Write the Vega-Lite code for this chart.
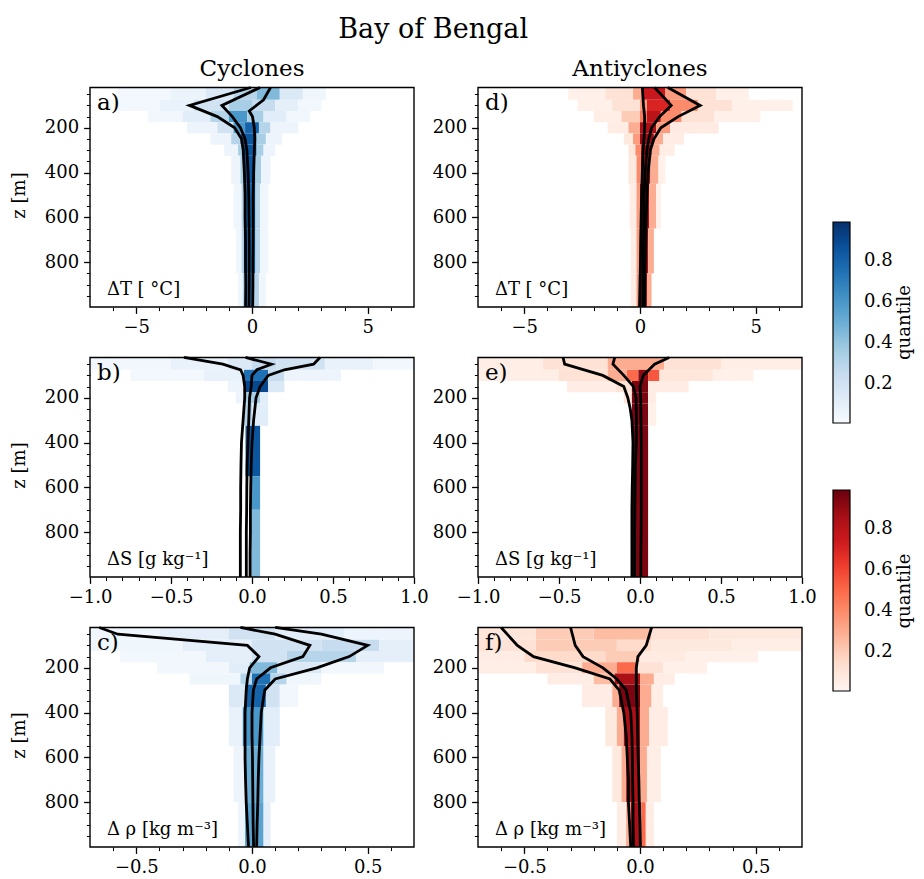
{
"$schema": "https://vega.github.io/schema/vega-lite/v6.json",
"background": "white",
"padding": {"left": 10, "top": 16, "right": 5, "bottom": 5},
"title": {"text": "Bay of Bengal", "anchor": "start", "dx": 328, "fontSize": 27, "offset": 14},
"datasets": {
"heat": [
{"p":"a","z0":20,"z1":75,"x0":-5.8,"x1":-3.5,"q":0.03},{"p":"a","z0":20,"z1":75,"x0":-3.5,"x1":-2,"q":0.07},{"p":"a","z0":20,"z1":75,"x0":-2,"x1":-0.8,"q":0.15},{"p":"a","z0":20,"z1":75,"x0":-0.8,"x1":0.2,"q":0.3},{"p":"a","z0":20,"z1":75,"x0":0.2,"x1":1.2,"q":0.45},{"p":"a","z0":20,"z1":75,"x0":1.2,"x1":2.2,"q":0.15},{"p":"a","z0":20,"z1":75,"x0":2.2,"x1":3.2,"q":0.05},
{"p":"a","z0":75,"z1":125,"x0":-5.8,"x1":-4,"q":0.03},{"p":"a","z0":75,"z1":125,"x0":-4,"x1":-2.5,"q":0.08},{"p":"a","z0":75,"z1":125,"x0":-2.5,"x1":-1,"q":0.2},{"p":"a","z0":75,"z1":125,"x0":-1,"x1":0,"q":0.35},{"p":"a","z0":75,"z1":125,"x0":0,"x1":1,"q":0.25},{"p":"a","z0":75,"z1":125,"x0":1,"x1":2,"q":0.1},{"p":"a","z0":75,"z1":125,"x0":2,"x1":3,"q":0.04},
{"p":"a","z0":125,"z1":175,"x0":-4.5,"x1":-3,"q":0.04},{"p":"a","z0":125,"z1":175,"x0":-3,"x1":-1.8,"q":0.12},{"p":"a","z0":125,"z1":175,"x0":-1.8,"x1":-1,"q":0.3},{"p":"a","z0":125,"z1":175,"x0":-1,"x1":-0.2,"q":0.6},{"p":"a","z0":125,"z1":175,"x0":-0.2,"x1":0.5,"q":0.35},{"p":"a","z0":125,"z1":175,"x0":0.5,"x1":1.5,"q":0.12},{"p":"a","z0":125,"z1":175,"x0":1.5,"x1":2.5,"q":0.04},
{"p":"a","z0":175,"z1":225,"x0":-2.8,"x1":-1.5,"q":0.06},{"p":"a","z0":175,"z1":225,"x0":-1.5,"x1":-0.8,"q":0.2},{"p":"a","z0":175,"z1":225,"x0":-0.8,"x1":-0.3,"q":0.6},{"p":"a","z0":175,"z1":225,"x0":-0.3,"x1":0.3,"q":0.8},{"p":"a","z0":175,"z1":225,"x0":0.3,"x1":0.8,"q":0.3},{"p":"a","z0":175,"z1":225,"x0":0.8,"x1":2,"q":0.06},
{"p":"a","z0":225,"z1":275,"x0":-1.8,"x1":-0.9,"q":0.06},{"p":"a","z0":225,"z1":275,"x0":-0.9,"x1":-0.5,"q":0.3},{"p":"a","z0":225,"z1":275,"x0":-0.5,"x1":0.2,"q":0.85},{"p":"a","z0":225,"z1":275,"x0":0.2,"x1":0.6,"q":0.35},{"p":"a","z0":225,"z1":275,"x0":0.6,"x1":1.3,"q":0.06},
{"p":"a","z0":275,"z1":325,"x0":-1.2,"x1":-0.6,"q":0.06},{"p":"a","z0":275,"z1":325,"x0":-0.6,"x1":-0.35,"q":0.35},{"p":"a","z0":275,"z1":325,"x0":-0.35,"x1":0.2,"q":0.85},{"p":"a","z0":275,"z1":325,"x0":0.2,"x1":0.5,"q":0.35},{"p":"a","z0":275,"z1":325,"x0":0.5,"x1":1,"q":0.06},
{"p":"a","z0":325,"z1":450,"x0":-0.9,"x1":-0.5,"q":0.06},{"p":"a","z0":325,"z1":450,"x0":-0.5,"x1":-0.35,"q":0.35},{"p":"a","z0":325,"z1":450,"x0":-0.35,"x1":0.15,"q":0.85},{"p":"a","z0":325,"z1":450,"x0":0.15,"x1":0.4,"q":0.35},{"p":"a","z0":325,"z1":450,"x0":0.4,"x1":0.8,"q":0.06},
{"p":"a","z0":450,"z1":650,"x0":-0.8,"x1":-0.45,"q":0.05},{"p":"a","z0":450,"z1":650,"x0":-0.45,"x1":-0.35,"q":0.3},{"p":"a","z0":450,"z1":650,"x0":-0.35,"x1":0.15,"q":0.8},{"p":"a","z0":450,"z1":650,"x0":0.15,"x1":0.35,"q":0.3},{"p":"a","z0":450,"z1":650,"x0":0.35,"x1":0.7,"q":0.05},
{"p":"a","z0":650,"z1":850,"x0":-0.7,"x1":-0.45,"q":0.05},{"p":"a","z0":650,"z1":850,"x0":-0.45,"x1":-0.35,"q":0.3},{"p":"a","z0":650,"z1":850,"x0":-0.35,"x1":0.15,"q":0.75},{"p":"a","z0":650,"z1":850,"x0":0.15,"x1":0.35,"q":0.3},{"p":"a","z0":650,"z1":850,"x0":0.35,"x1":0.7,"q":0.05},
{"p":"a","z0":850,"z1":1000,"x0":-0.6,"x1":-0.4,"q":0.05},{"p":"a","z0":850,"z1":1000,"x0":-0.4,"x1":-0.3,"q":0.3},{"p":"a","z0":850,"z1":1000,"x0":-0.3,"x1":0.1,"q":0.7},{"p":"a","z0":850,"z1":1000,"x0":0.1,"x1":0.3,"q":0.3},{"p":"a","z0":850,"z1":1000,"x0":0.3,"x1":0.6,"q":0.05},
{"p":"d","z0":20,"z1":75,"x0":-3.1,"x1":-1.5,"q":0.04},{"p":"d","z0":20,"z1":75,"x0":-1.5,"x1":-0.3,"q":0.12},{"p":"d","z0":20,"z1":75,"x0":-0.3,"x1":0.1,"q":0.3},{"p":"d","z0":20,"z1":75,"x0":0.1,"x1":1.1,"q":0.75},{"p":"d","z0":20,"z1":75,"x0":1.1,"x1":2,"q":0.35},{"p":"d","z0":20,"z1":75,"x0":2,"x1":3.3,"q":0.12},{"p":"d","z0":20,"z1":75,"x0":3.3,"x1":4.7,"q":0.04},
{"p":"d","z0":75,"z1":125,"x0":-2.7,"x1":-1.2,"q":0.04},{"p":"d","z0":75,"z1":125,"x0":-1.2,"x1":0,"q":0.12},{"p":"d","z0":75,"z1":125,"x0":0,"x1":0.3,"q":0.35},{"p":"d","z0":75,"z1":125,"x0":0.3,"x1":1.3,"q":0.7},{"p":"d","z0":75,"z1":125,"x0":1.3,"x1":2.5,"q":0.4},{"p":"d","z0":75,"z1":125,"x0":2.5,"x1":4,"q":0.12},{"p":"d","z0":75,"z1":125,"x0":4,"x1":6.6,"q":0.04},
{"p":"d","z0":125,"z1":175,"x0":-2,"x1":-0.8,"q":0.05},{"p":"d","z0":125,"z1":175,"x0":-0.8,"x1":0,"q":0.2},{"p":"d","z0":125,"z1":175,"x0":0,"x1":0.3,"q":0.45},{"p":"d","z0":125,"z1":175,"x0":0.3,"x1":0.9,"q":0.8},{"p":"d","z0":125,"z1":175,"x0":0.9,"x1":1.8,"q":0.4},{"p":"d","z0":125,"z1":175,"x0":1.8,"x1":3.2,"q":0.12},{"p":"d","z0":125,"z1":175,"x0":3.2,"x1":5.2,"q":0.04},
{"p":"d","z0":175,"z1":225,"x0":-1.4,"x1":-0.5,"q":0.06},{"p":"d","z0":175,"z1":225,"x0":-0.5,"x1":0,"q":0.3},{"p":"d","z0":175,"z1":225,"x0":0,"x1":0.7,"q":0.85},{"p":"d","z0":175,"z1":225,"x0":0.7,"x1":1.3,"q":0.35},{"p":"d","z0":175,"z1":225,"x0":1.3,"x1":3.4,"q":0.07},
{"p":"d","z0":225,"z1":275,"x0":-0.7,"x1":-0.3,"q":0.08},{"p":"d","z0":225,"z1":275,"x0":-0.3,"x1":0,"q":0.35},{"p":"d","z0":225,"z1":275,"x0":0,"x1":0.6,"q":0.9},{"p":"d","z0":225,"z1":275,"x0":0.6,"x1":1,"q":0.3},{"p":"d","z0":225,"z1":275,"x0":1,"x1":1.9,"q":0.06},
{"p":"d","z0":275,"z1":325,"x0":-0.5,"x1":-0.2,"q":0.1},{"p":"d","z0":275,"z1":325,"x0":-0.2,"x1":0.05,"q":0.4},{"p":"d","z0":275,"z1":325,"x0":0.05,"x1":0.5,"q":0.9},{"p":"d","z0":275,"z1":325,"x0":0.5,"x1":0.85,"q":0.3},{"p":"d","z0":275,"z1":325,"x0":0.85,"x1":1.5,"q":0.05},
{"p":"d","z0":325,"z1":450,"x0":-0.5,"x1":-0.15,"q":0.08},{"p":"d","z0":325,"z1":450,"x0":-0.15,"x1":0.05,"q":0.4},{"p":"d","z0":325,"z1":450,"x0":0.05,"x1":0.45,"q":0.85},{"p":"d","z0":325,"z1":450,"x0":0.45,"x1":0.8,"q":0.3},{"p":"d","z0":325,"z1":450,"x0":0.8,"x1":1.1,"q":0.04},
{"p":"d","z0":450,"z1":650,"x0":-0.45,"x1":-0.15,"q":0.06},{"p":"d","z0":450,"z1":650,"x0":-0.15,"x1":0,"q":0.35},{"p":"d","z0":450,"z1":650,"x0":0,"x1":0.4,"q":0.85},{"p":"d","z0":450,"z1":650,"x0":0.4,"x1":0.7,"q":0.3},{"p":"d","z0":450,"z1":650,"x0":0.7,"x1":0.9,"q":0.04},
{"p":"d","z0":650,"z1":850,"x0":-0.4,"x1":-0.15,"q":0.05},{"p":"d","z0":650,"z1":850,"x0":-0.15,"x1":0,"q":0.35},{"p":"d","z0":650,"z1":850,"x0":0,"x1":0.35,"q":0.85},{"p":"d","z0":650,"z1":850,"x0":0.35,"x1":0.6,"q":0.3},
{"p":"d","z0":850,"z1":1000,"x0":-0.4,"x1":-0.15,"q":0.05},{"p":"d","z0":850,"z1":1000,"x0":-0.15,"x1":-0.05,"q":0.35},{"p":"d","z0":850,"z1":1000,"x0":-0.05,"x1":0.3,"q":0.9},{"p":"d","z0":850,"z1":1000,"x0":0.3,"x1":0.5,"q":0.3},
{"p":"b","z0":20,"z1":75,"x0":-1,"x1":-0.5,"q":0.04},{"p":"b","z0":20,"z1":75,"x0":-0.5,"x1":-0.15,"q":0.08},{"p":"b","z0":20,"z1":75,"x0":-0.15,"x1":0,"q":0.15},{"p":"b","z0":20,"z1":75,"x0":0,"x1":0.15,"q":0.25},{"p":"b","z0":20,"z1":75,"x0":0.15,"x1":0.45,"q":0.2},{"p":"b","z0":20,"z1":75,"x0":0.45,"x1":0.75,"q":0.08},{"p":"b","z0":20,"z1":75,"x0":0.75,"x1":1,"q":0.04},
{"p":"b","z0":75,"z1":125,"x0":-0.75,"x1":-0.3,"q":0.03},{"p":"b","z0":75,"z1":125,"x0":-0.3,"x1":-0.05,"q":0.08},{"p":"b","z0":75,"z1":125,"x0":-0.05,"x1":0.1,"q":0.75},{"p":"b","z0":75,"z1":125,"x0":0.1,"x1":0.2,"q":0.25},{"p":"b","z0":75,"z1":125,"x0":0.2,"x1":0.55,"q":0.06},
{"p":"b","z0":125,"z1":175,"x0":-0.15,"x1":-0.05,"q":0.06},{"p":"b","z0":125,"z1":175,"x0":-0.05,"x1":0.1,"q":0.9},{"p":"b","z0":125,"z1":175,"x0":0.1,"x1":0.2,"q":0.15},
{"p":"b","z0":175,"z1":225,"x0":-0.1,"x1":-0.05,"q":0.06},{"p":"b","z0":175,"z1":225,"x0":-0.05,"x1":0.05,"q":0.35},{"p":"b","z0":175,"z1":225,"x0":0.05,"x1":0.1,"q":0.12},
{"p":"b","z0":225,"z1":325,"x0":-0.05,"x1":0,"q":0.3},{"p":"b","z0":225,"z1":325,"x0":0,"x1":0.1,"q":0.12},
{"p":"b","z0":325,"z1":550,"x0":-0.04,"x1":0.05,"q":0.85},
{"p":"b","z0":550,"z1":700,"x0":-0.01,"x1":0.05,"q":0.6},
{"p":"b","z0":700,"z1":1000,"x0":-0.01,"x1":0.05,"q":0.45},
{"p":"e","z0":20,"z1":75,"x0":-1,"x1":-0.6,"q":0.05},{"p":"e","z0":20,"z1":75,"x0":-0.6,"x1":-0.2,"q":0.12},{"p":"e","z0":20,"z1":75,"x0":-0.2,"x1":0.15,"q":0.3},{"p":"e","z0":20,"z1":75,"x0":0.15,"x1":0.5,"q":0.12},{"p":"e","z0":20,"z1":75,"x0":0.5,"x1":1,"q":0.05},
{"p":"e","z0":75,"z1":125,"x0":-1,"x1":-0.5,"q":0.05},{"p":"e","z0":75,"z1":125,"x0":-0.5,"x1":-0.2,"q":0.12},{"p":"e","z0":75,"z1":125,"x0":-0.2,"x1":-0.08,"q":0.3},{"p":"e","z0":75,"z1":125,"x0":-0.08,"x1":-0.01,"q":0.5},{"p":"e","z0":75,"z1":125,"x0":-0.01,"x1":0.05,"q":0.92},{"p":"e","z0":75,"z1":125,"x0":0.05,"x1":0.12,"q":0.55},{"p":"e","z0":75,"z1":125,"x0":0.12,"x1":0.45,"q":0.1},{"p":"e","z0":75,"z1":125,"x0":0.45,"x1":0.7,"q":0.04},
{"p":"e","z0":125,"z1":175,"x0":-0.45,"x1":-0.15,"q":0.06},{"p":"e","z0":125,"z1":175,"x0":-0.15,"x1":-0.05,"q":0.12},{"p":"e","z0":125,"z1":175,"x0":-0.05,"x1":0.05,"q":0.95},{"p":"e","z0":125,"z1":175,"x0":0.05,"x1":0.3,"q":0.06},
{"p":"e","z0":175,"z1":225,"x0":-0.1,"x1":-0.05,"q":0.1},{"p":"e","z0":175,"z1":225,"x0":-0.05,"x1":0.05,"q":0.95},{"p":"e","z0":175,"z1":225,"x0":0.05,"x1":0.1,"q":0.06},
{"p":"e","z0":225,"z1":325,"x0":-0.05,"x1":0.05,"q":0.95},{"p":"e","z0":225,"z1":325,"x0":0.05,"x1":0.1,"q":0.04},
{"p":"e","z0":325,"z1":1000,"x0":-0.05,"x1":0.05,"q":0.95},
{"p":"c","z0":20,"z1":75,"x0":-0.7,"x1":-0.4,"q":0.05},{"p":"c","z0":20,"z1":75,"x0":-0.4,"x1":-0.1,"q":0.1},{"p":"c","z0":20,"z1":75,"x0":-0.1,"x1":0.1,"q":0.2},{"p":"c","z0":20,"z1":75,"x0":0.1,"x1":0.4,"q":0.12},{"p":"c","z0":20,"z1":75,"x0":0.4,"x1":0.7,"q":0.06},
{"p":"c","z0":75,"z1":125,"x0":-0.7,"x1":-0.3,"q":0.05},{"p":"c","z0":75,"z1":125,"x0":-0.3,"x1":0,"q":0.1},{"p":"c","z0":75,"z1":125,"x0":0,"x1":0.3,"q":0.2},{"p":"c","z0":75,"z1":125,"x0":0.3,"x1":0.55,"q":0.25},{"p":"c","z0":75,"z1":125,"x0":0.55,"x1":0.7,"q":0.1},
{"p":"c","z0":125,"z1":175,"x0":-0.57,"x1":-0.2,"q":0.04},{"p":"c","z0":125,"z1":175,"x0":-0.2,"x1":0,"q":0.1},{"p":"c","z0":125,"z1":175,"x0":0,"x1":0.15,"q":0.2},{"p":"c","z0":125,"z1":175,"x0":0.15,"x1":0.45,"q":0.3},{"p":"c","z0":125,"z1":175,"x0":0.45,"x1":0.7,"q":0.1},
{"p":"c","z0":175,"z1":225,"x0":-0.41,"x1":-0.1,"q":0.04},{"p":"c","z0":175,"z1":225,"x0":-0.1,"x1":-0.01,"q":0.12},{"p":"c","z0":175,"z1":225,"x0":-0.01,"x1":0.11,"q":0.45},{"p":"c","z0":175,"z1":225,"x0":0.11,"x1":0.3,"q":0.15},{"p":"c","z0":175,"z1":225,"x0":0.3,"x1":0.57,"q":0.04},
{"p":"c","z0":225,"z1":275,"x0":-0.27,"x1":-0.05,"q":0.05},{"p":"c","z0":225,"z1":275,"x0":-0.05,"x1":0,"q":0.3},{"p":"c","z0":225,"z1":275,"x0":0,"x1":0.08,"q":0.75},{"p":"c","z0":225,"z1":275,"x0":0.08,"x1":0.15,"q":0.3},{"p":"c","z0":225,"z1":275,"x0":0.15,"x1":0.3,"q":0.05},
{"p":"c","z0":275,"z1":375,"x0":-0.1,"x1":-0.03,"q":0.15},{"p":"c","z0":275,"z1":375,"x0":-0.03,"x1":0.06,"q":0.8},{"p":"c","z0":275,"z1":375,"x0":0.06,"x1":0.12,"q":0.2},{"p":"c","z0":275,"z1":375,"x0":0.12,"x1":0.2,"q":0.04},
{"p":"c","z0":375,"z1":550,"x0":-0.1,"x1":-0.04,"q":0.08},{"p":"c","z0":375,"z1":550,"x0":-0.04,"x1":0.05,"q":0.6},{"p":"c","z0":375,"z1":550,"x0":0.05,"x1":0.12,"q":0.12},
{"p":"c","z0":550,"z1":800,"x0":-0.08,"x1":-0.03,"q":0.06},{"p":"c","z0":550,"z1":800,"x0":-0.03,"x1":0.05,"q":0.5},{"p":"c","z0":550,"z1":800,"x0":0.05,"x1":0.1,"q":0.08},
{"p":"c","z0":800,"z1":1000,"x0":-0.06,"x1":-0.03,"q":0.06},{"p":"c","z0":800,"z1":1000,"x0":-0.03,"x1":0.05,"q":0.55},{"p":"c","z0":800,"z1":1000,"x0":0.05,"x1":0.08,"q":0.1},
{"p":"f","z0":20,"z1":75,"x0":-0.7,"x1":-0.45,"q":0.1},{"p":"f","z0":20,"z1":75,"x0":-0.45,"x1":-0.2,"q":0.2},{"p":"f","z0":20,"z1":75,"x0":-0.2,"x1":0.05,"q":0.25},{"p":"f","z0":20,"z1":75,"x0":0.05,"x1":0.3,"q":0.12},{"p":"f","z0":20,"z1":75,"x0":0.3,"x1":0.7,"q":0.08},
{"p":"f","z0":75,"z1":125,"x0":-0.7,"x1":-0.45,"q":0.12},{"p":"f","z0":75,"z1":125,"x0":-0.45,"x1":-0.1,"q":0.2},{"p":"f","z0":75,"z1":125,"x0":-0.1,"x1":0.05,"q":0.15},{"p":"f","z0":75,"z1":125,"x0":0.05,"x1":0.4,"q":0.08},{"p":"f","z0":75,"z1":125,"x0":0.4,"x1":0.7,"q":0.05},
{"p":"f","z0":125,"z1":175,"x0":-0.7,"x1":-0.5,"q":0.06},{"p":"f","z0":125,"z1":175,"x0":-0.5,"x1":-0.15,"q":0.15},{"p":"f","z0":125,"z1":175,"x0":-0.15,"x1":0,"q":0.2},{"p":"f","z0":125,"z1":175,"x0":0,"x1":0.2,"q":0.07},{"p":"f","z0":125,"z1":175,"x0":0.2,"x1":0.51,"q":0.04},
{"p":"f","z0":175,"z1":225,"x0":-0.7,"x1":-0.45,"q":0.05},{"p":"f","z0":175,"z1":225,"x0":-0.45,"x1":-0.25,"q":0.12},{"p":"f","z0":175,"z1":225,"x0":-0.25,"x1":-0.1,"q":0.3},{"p":"f","z0":175,"z1":225,"x0":-0.1,"x1":-0.01,"q":0.5},{"p":"f","z0":175,"z1":225,"x0":-0.01,"x1":0.1,"q":0.12},{"p":"f","z0":175,"z1":225,"x0":0.1,"x1":0.29,"q":0.04},
{"p":"f","z0":225,"z1":275,"x0":-0.4,"x1":-0.2,"q":0.06},{"p":"f","z0":225,"z1":275,"x0":-0.2,"x1":-0.11,"q":0.25},{"p":"f","z0":225,"z1":275,"x0":-0.11,"x1":0,"q":0.85},{"p":"f","z0":225,"z1":275,"x0":0,"x1":0.06,"q":0.3},{"p":"f","z0":225,"z1":275,"x0":0.06,"x1":0.15,"q":0.06},
{"p":"f","z0":275,"z1":375,"x0":-0.25,"x1":-0.12,"q":0.06},{"p":"f","z0":275,"z1":375,"x0":-0.12,"x1":-0.09,"q":0.3},{"p":"f","z0":275,"z1":375,"x0":-0.09,"x1":0,"q":0.95},{"p":"f","z0":275,"z1":375,"x0":0,"x1":0.05,"q":0.3},{"p":"f","z0":275,"z1":375,"x0":0.05,"x1":0.1,"q":0.05},
{"p":"f","z0":375,"z1":550,"x0":-0.15,"x1":-0.1,"q":0.08},{"p":"f","z0":375,"z1":550,"x0":-0.1,"x1":-0.07,"q":0.3},{"p":"f","z0":375,"z1":550,"x0":-0.07,"x1":0,"q":0.85},{"p":"f","z0":375,"z1":550,"x0":0,"x1":0.04,"q":0.3},{"p":"f","z0":375,"z1":550,"x0":0.04,"x1":0.12,"q":0.06},
{"p":"f","z0":550,"z1":800,"x0":-0.12,"x1":-0.08,"q":0.08},{"p":"f","z0":550,"z1":800,"x0":-0.08,"x1":-0.06,"q":0.3},{"p":"f","z0":550,"z1":800,"x0":-0.06,"x1":0,"q":0.85},{"p":"f","z0":550,"z1":800,"x0":0,"x1":0.03,"q":0.3},{"p":"f","z0":550,"z1":800,"x0":0.03,"x1":0.09,"q":0.05},
{"p":"f","z0":800,"z1":1000,"x0":-0.1,"x1":-0.06,"q":0.06},{"p":"f","z0":800,"z1":1000,"x0":-0.06,"x1":-0.04,"q":0.3},{"p":"f","z0":800,"z1":1000,"x0":-0.04,"x1":0.005,"q":0.85},{"p":"f","z0":800,"z1":1000,"x0":0.005,"x1":0.025,"q":0.5},{"p":"f","z0":800,"z1":1000,"x0":0.025,"x1":0.06,"q":0.06}
],
"lines": [
{"p":"a","k":"lo","z":20,"x":-0.05},{"p":"a","k":"lo","z":100,"x":-2.7},{"p":"a","k":"lo","z":150,"x":-1.5},{"p":"a","k":"lo","z":200,"x":-0.75},{"p":"a","k":"lo","z":250,"x":-0.45},{"p":"a","k":"lo","z":300,"x":-0.38},{"p":"a","k":"lo","z":400,"x":-0.33},{"p":"a","k":"lo","z":500,"x":-0.3},{"p":"a","k":"lo","z":600,"x":-0.3},{"p":"a","k":"lo","z":700,"x":-0.28},{"p":"a","k":"lo","z":800,"x":-0.28},{"p":"a","k":"lo","z":900,"x":-0.27},{"p":"a","k":"lo","z":1000,"x":-0.28},
{"p":"a","k":"md","z":20,"x":0.35},{"p":"a","k":"md","z":100,"x":-1.3},{"p":"a","k":"md","z":150,"x":-0.85},{"p":"a","k":"md","z":200,"x":-0.5},{"p":"a","k":"md","z":250,"x":-0.3},{"p":"a","k":"md","z":300,"x":-0.22},{"p":"a","k":"md","z":400,"x":-0.17},{"p":"a","k":"md","z":500,"x":-0.14},{"p":"a","k":"md","z":600,"x":-0.13},{"p":"a","k":"md","z":700,"x":-0.12},{"p":"a","k":"md","z":800,"x":-0.12},{"p":"a","k":"md","z":900,"x":-0.12},{"p":"a","k":"md","z":1000,"x":-0.13},
{"p":"a","k":"hi","z":20,"x":0.8},{"p":"a","k":"hi","z":75,"x":0.5},{"p":"a","k":"hi","z":125,"x":-0.12},{"p":"a","k":"hi","z":150,"x":0.02},{"p":"a","k":"hi","z":200,"x":0.1},{"p":"a","k":"hi","z":250,"x":0.12},{"p":"a","k":"hi","z":300,"x":0.1},{"p":"a","k":"hi","z":400,"x":0.07},{"p":"a","k":"hi","z":500,"x":0.05},{"p":"a","k":"hi","z":600,"x":0.05},{"p":"a","k":"hi","z":700,"x":0.05},{"p":"a","k":"hi","z":800,"x":0.04},{"p":"a","k":"hi","z":900,"x":0.04},{"p":"a","k":"hi","z":1000,"x":0.03},
{"p":"d","k":"lo","z":20,"x":0.1},{"p":"d","k":"lo","z":100,"x":0.15},{"p":"d","k":"lo","z":150,"x":0.2},{"p":"d","k":"lo","z":200,"x":0.2},{"p":"d","k":"lo","z":250,"x":0.17},{"p":"d","k":"lo","z":300,"x":0.13},{"p":"d","k":"lo","z":400,"x":0.1},{"p":"d","k":"lo","z":500,"x":0.07},{"p":"d","k":"lo","z":600,"x":0.05},{"p":"d","k":"lo","z":700,"x":0.03},{"p":"d","k":"lo","z":800,"x":0.02},{"p":"d","k":"lo","z":900,"x":0.0},{"p":"d","k":"lo","z":1000,"x":-0.02},
{"p":"d","k":"md","z":20,"x":0.63},{"p":"d","k":"md","z":100,"x":1.35},{"p":"d","k":"md","z":150,"x":0.85},{"p":"d","k":"md","z":200,"x":0.5},{"p":"d","k":"md","z":250,"x":0.38},{"p":"d","k":"md","z":300,"x":0.3},{"p":"d","k":"md","z":400,"x":0.22},{"p":"d","k":"md","z":500,"x":0.18},{"p":"d","k":"md","z":600,"x":0.16},{"p":"d","k":"md","z":700,"x":0.15},{"p":"d","k":"md","z":800,"x":0.14},{"p":"d","k":"md","z":900,"x":0.13},{"p":"d","k":"md","z":1000,"x":0.12},
{"p":"d","k":"hi","z":20,"x":1.2},{"p":"d","k":"hi","z":100,"x":2.6},{"p":"d","k":"hi","z":150,"x":1.65},{"p":"d","k":"hi","z":200,"x":0.9},{"p":"d","k":"hi","z":250,"x":0.6},{"p":"d","k":"hi","z":300,"x":0.45},{"p":"d","k":"hi","z":400,"x":0.35},{"p":"d","k":"hi","z":500,"x":0.3},{"p":"d","k":"hi","z":600,"x":0.27},{"p":"d","k":"hi","z":700,"x":0.25},{"p":"d","k":"hi","z":800,"x":0.23},{"p":"d","k":"hi","z":900,"x":0.21},{"p":"d","k":"hi","z":1000,"x":0.2},
{"p":"b","k":"lo","z":20,"x":-0.42},{"p":"b","k":"lo","z":50,"x":-0.18},{"p":"b","k":"lo","z":75,"x":-0.07},{"p":"b","k":"lo","z":100,"x":-0.055},{"p":"b","k":"lo","z":150,"x":-0.045},{"p":"b","k":"lo","z":200,"x":-0.045},{"p":"b","k":"lo","z":300,"x":-0.055},{"p":"b","k":"lo","z":400,"x":-0.065},{"p":"b","k":"lo","z":500,"x":-0.068},{"p":"b","k":"lo","z":600,"x":-0.07},{"p":"b","k":"lo","z":700,"x":-0.07},{"p":"b","k":"lo","z":800,"x":-0.072},{"p":"b","k":"lo","z":900,"x":-0.072},{"p":"b","k":"lo","z":1000,"x":-0.072},
{"p":"b","k":"md","z":20,"x":-0.04},{"p":"b","k":"md","z":50,"x":0.12},{"p":"b","k":"md","z":75,"x":0.03},{"p":"b","k":"md","z":100,"x":0.0},{"p":"b","k":"md","z":150,"x":-0.005},{"p":"b","k":"md","z":200,"x":-0.015},{"p":"b","k":"md","z":300,"x":-0.02},{"p":"b","k":"md","z":400,"x":-0.025},{"p":"b","k":"md","z":500,"x":-0.03},{"p":"b","k":"md","z":600,"x":-0.032},{"p":"b","k":"md","z":700,"x":-0.033},{"p":"b","k":"md","z":800,"x":-0.035},{"p":"b","k":"md","z":900,"x":-0.035},{"p":"b","k":"md","z":1000,"x":-0.035},
{"p":"b","k":"hi","z":20,"x":0.42},{"p":"b","k":"hi","z":50,"x":0.38},{"p":"b","k":"hi","z":75,"x":0.2},{"p":"b","k":"hi","z":100,"x":0.1},{"p":"b","k":"hi","z":150,"x":0.05},{"p":"b","k":"hi","z":200,"x":0.025},{"p":"b","k":"hi","z":300,"x":0.01},{"p":"b","k":"hi","z":400,"x":0.0},{"p":"b","k":"hi","z":500,"x":-0.005},{"p":"b","k":"hi","z":600,"x":-0.008},{"p":"b","k":"hi","z":700,"x":-0.01},{"p":"b","k":"hi","z":800,"x":-0.01},{"p":"b","k":"hi","z":900,"x":-0.012},{"p":"b","k":"hi","z":1000,"x":-0.012},
{"p":"e","k":"lo","z":20,"x":-0.475},{"p":"e","k":"lo","z":50,"x":-0.465},{"p":"e","k":"lo","z":100,"x":-0.23},{"p":"e","k":"lo","z":150,"x":-0.1},{"p":"e","k":"lo","z":200,"x":-0.075},{"p":"e","k":"lo","z":250,"x":-0.06},{"p":"e","k":"lo","z":300,"x":-0.05},{"p":"e","k":"lo","z":400,"x":-0.043},{"p":"e","k":"lo","z":500,"x":-0.045},{"p":"e","k":"lo","z":600,"x":-0.048},{"p":"e","k":"lo","z":700,"x":-0.05},{"p":"e","k":"lo","z":800,"x":-0.05},{"p":"e","k":"lo","z":900,"x":-0.05},{"p":"e","k":"lo","z":1000,"x":-0.05},
{"p":"e","k":"md","z":20,"x":-0.156},{"p":"e","k":"md","z":50,"x":-0.167},{"p":"e","k":"md","z":100,"x":-0.1},{"p":"e","k":"md","z":150,"x":-0.04},{"p":"e","k":"md","z":200,"x":-0.025},{"p":"e","k":"md","z":300,"x":-0.022},{"p":"e","k":"md","z":400,"x":-0.023},{"p":"e","k":"md","z":500,"x":-0.028},{"p":"e","k":"md","z":600,"x":-0.03},{"p":"e","k":"md","z":700,"x":-0.032},{"p":"e","k":"md","z":800,"x":-0.033},{"p":"e","k":"md","z":900,"x":-0.033},{"p":"e","k":"md","z":1000,"x":-0.033},
{"p":"e","k":"hi","z":20,"x":0.18},{"p":"e","k":"hi","z":50,"x":0.09},{"p":"e","k":"hi","z":100,"x":0.02},{"p":"e","k":"hi","z":150,"x":0.0},{"p":"e","k":"hi","z":200,"x":0.004},{"p":"e","k":"hi","z":300,"x":0.006},{"p":"e","k":"hi","z":400,"x":0.008},{"p":"e","k":"hi","z":500,"x":0.008},{"p":"e","k":"hi","z":600,"x":0.008},{"p":"e","k":"hi","z":700,"x":0.008},{"p":"e","k":"hi","z":800,"x":0.007},{"p":"e","k":"hi","z":900,"x":0.005},{"p":"e","k":"hi","z":1000,"x":0.005},
{"p":"c","k":"lo","z":20,"x":-0.66},{"p":"c","k":"lo","z":50,"x":-0.58},{"p":"c","k":"lo","z":100,"x":-0.02},{"p":"c","k":"lo","z":150,"x":0.03},{"p":"c","k":"lo","z":200,"x":-0.01},{"p":"c","k":"lo","z":250,"x":-0.02},{"p":"c","k":"lo","z":300,"x":-0.025},{"p":"c","k":"lo","z":400,"x":-0.03},{"p":"c","k":"lo","z":500,"x":-0.03},{"p":"c","k":"lo","z":600,"x":-0.03},{"p":"c","k":"lo","z":700,"x":-0.028},{"p":"c","k":"lo","z":800,"x":-0.025},{"p":"c","k":"lo","z":900,"x":-0.02},{"p":"c","k":"lo","z":1000,"x":-0.015},
{"p":"c","k":"md","z":20,"x":-0.05},{"p":"c","k":"md","z":50,"x":0.1},{"p":"c","k":"md","z":100,"x":0.25},{"p":"c","k":"md","z":150,"x":0.22},{"p":"c","k":"md","z":200,"x":0.08},{"p":"c","k":"md","z":250,"x":0.02},{"p":"c","k":"md","z":300,"x":0.006},{"p":"c","k":"md","z":400,"x":0.0},{"p":"c","k":"md","z":500,"x":0.0},{"p":"c","k":"md","z":600,"x":0.002},{"p":"c","k":"md","z":700,"x":0.003},{"p":"c","k":"md","z":800,"x":0.004},{"p":"c","k":"md","z":900,"x":0.005},{"p":"c","k":"md","z":1000,"x":0.007},
{"p":"c","k":"hi","z":20,"x":0.1},{"p":"c","k":"hi","z":50,"x":0.3},{"p":"c","k":"hi","z":100,"x":0.5},{"p":"c","k":"hi","z":150,"x":0.42},{"p":"c","k":"hi","z":200,"x":0.28},{"p":"c","k":"hi","z":250,"x":0.1},{"p":"c","k":"hi","z":300,"x":0.055},{"p":"c","k":"hi","z":400,"x":0.04},{"p":"c","k":"hi","z":500,"x":0.035},{"p":"c","k":"hi","z":600,"x":0.03},{"p":"c","k":"hi","z":700,"x":0.027},{"p":"c","k":"hi","z":800,"x":0.025},{"p":"c","k":"hi","z":900,"x":0.022},{"p":"c","k":"hi","z":1000,"x":0.02},
{"p":"f","k":"lo","z":20,"x":-0.6},{"p":"f","k":"lo","z":100,"x":-0.53},{"p":"f","k":"lo","z":150,"x":-0.46},{"p":"f","k":"lo","z":200,"x":-0.28},{"p":"f","k":"lo","z":250,"x":-0.13},{"p":"f","k":"lo","z":300,"x":-0.09},{"p":"f","k":"lo","z":400,"x":-0.07},{"p":"f","k":"lo","z":500,"x":-0.06},{"p":"f","k":"lo","z":600,"x":-0.055},{"p":"f","k":"lo","z":700,"x":-0.05},{"p":"f","k":"lo","z":800,"x":-0.05},{"p":"f","k":"lo","z":900,"x":-0.045},{"p":"f","k":"lo","z":1000,"x":-0.04},
{"p":"f","k":"md","z":20,"x":-0.3},{"p":"f","k":"md","z":100,"x":-0.28},{"p":"f","k":"md","z":150,"x":-0.246},{"p":"f","k":"md","z":200,"x":-0.16},{"p":"f","k":"md","z":250,"x":-0.1},{"p":"f","k":"md","z":300,"x":-0.06},{"p":"f","k":"md","z":400,"x":-0.04},{"p":"f","k":"md","z":500,"x":-0.035},{"p":"f","k":"md","z":600,"x":-0.033},{"p":"f","k":"md","z":700,"x":-0.032},{"p":"f","k":"md","z":800,"x":-0.03},{"p":"f","k":"md","z":900,"x":-0.03},{"p":"f","k":"md","z":1000,"x":-0.028},
{"p":"f","k":"hi","z":20,"x":0.05},{"p":"f","k":"hi","z":100,"x":0.027},{"p":"f","k":"hi","z":150,"x":-0.009},{"p":"f","k":"hi","z":200,"x":-0.016},{"p":"f","k":"hi","z":300,"x":-0.016},{"p":"f","k":"hi","z":400,"x":-0.012},{"p":"f","k":"hi","z":500,"x":-0.01},{"p":"f","k":"hi","z":600,"x":-0.008},{"p":"f","k":"hi","z":700,"x":-0.005},{"p":"f","k":"hi","z":800,"x":-0.003},{"p":"f","k":"hi","z":900,"x":0.0},{"p":"f","k":"hi","z":1000,"x":0.002}
]
},
"spacing": 10,
"resolve": {"scale": {"color": "independent"}},
"hconcat": [
{"vconcat": [
 {"hconcat": [
  {"width": 324, "height": 224, "title": {"text": "Cyclones", "fontSize": 23, "offset": 2},
   "resolve": {"axis": {"x": "independent", "y": "independent"}},
   "layer": [
    {"data": {"name": "heat"}, "transform": [{"filter": "datum.p==='a'"}], "mark": "rect",
     "encoding": {
      "x": {"field": "x0", "type": "quantitative", "scale": {"domain": [-7, 7]}, "axis": {"orient": "bottom", "values": [-5, 0, 5], "format": "d", "title": null}},
      "x2": {"field": "x1"},
      "y": {"field": "z0", "type": "quantitative", "scale": {"domain": [20, 1000], "reverse": true}, "axis": {"orient": "left", "values": [200, 400, 600, 800], "format": "d", "title": "z [m]", "titlePadding": 16}},
      "y2": {"field": "z1"},
      "color": {"field": "q", "type": "quantitative", "scale": {"domain": [0.01,0.1325,0.255,0.3775,0.5,0.6225,0.745,0.8675,0.99], "range": ["#f7fbff","#deebf7","#c6dbef","#9ecae1","#6baed6","#4292c6","#2171b5","#08519c","#08306b"], "interpolate": "rgb"}, "legend": null}
     }},
    {"data": {"name": "lines"}, "transform": [{"filter": "datum.p==='a'"}], "mark": {"type": "line", "color": "black", "strokeWidth": 2.8, "clip": true},
     "encoding": {"x": {"field": "x", "type": "quantitative", "axis": {"orient": "bottom", "values": [-6,-4,-3,-2,-1,1,2,3,4,6], "labels": false, "tickSize": 3.6, "tickWidth": 1, "title": null}}, "y": {"field": "z", "type": "quantitative", "axis": {"orient": "left", "values": [50,100,150,250,300,350,450,500,550,650,700,750,850,900,950], "labels": false, "tickSize": 3.6, "tickWidth": 1, "title": null}}, "detail": {"field": "k"}, "order": {"field": "z", "type": "quantitative"}}},
    {"data": {"values": [{}]}, "mark": {"type": "text", "fontSize": 23, "align": "left", "baseline": "alphabetic"}, "encoding": {"x": {"datum": -6.7, "axis": null}, "y": {"datum": 120, "axis": null}, "text": {"value": "a)"}}},
    {"data": {"values": [{}]}, "mark": {"type": "text", "fontSize": 18, "align": "left", "baseline": "alphabetic"}, "encoding": {"x": {"datum": -6.27, "axis": null}, "y": {"datum": 948, "axis": null}, "text": {"value": "ΔT [ °C]"}}},
    {"data": {"values": [{}]}, "mark": {"type": "rect", "filled": false, "color": "black", "strokeWidth": 1.4}, "encoding": {"x": {"datum": -7, "axis": null}, "x2": {"datum": 7}, "y": {"datum": 20, "axis": null}, "y2": {"datum": 1000}}}
   ]},
  {"width": 324, "height": 224, "title": {"text": "Antiyclones", "fontSize": 23, "offset": 2},
   "resolve": {"axis": {"x": "independent", "y": "independent"}},
   "layer": [
    {"data": {"name": "heat"}, "transform": [{"filter": "datum.p==='d'"}], "mark": "rect",
     "encoding": {
      "x": {"field": "x0", "type": "quantitative", "scale": {"domain": [-7, 7]}, "axis": {"orient": "bottom", "values": [-5, 0, 5], "format": "d", "title": null}},
      "x2": {"field": "x1"},
      "y": {"field": "z0", "type": "quantitative", "scale": {"domain": [20, 1000], "reverse": true}, "axis": {"orient": "left", "values": [200, 400, 600, 800], "format": "d", "title": null}},
      "y2": {"field": "z1"},
      "color": {"field": "q", "type": "quantitative", "scale": {"domain": [0.01,0.1325,0.255,0.3775,0.5,0.6225,0.745,0.8675,0.99], "range": ["#fff5f0","#fee0d2","#fcbba1","#fc9272","#fb6a4a","#ef3b2c","#cb181d","#a50f15","#67000d"], "interpolate": "rgb"}, "legend": null}
     }},
    {"data": {"name": "lines"}, "transform": [{"filter": "datum.p==='d'"}], "mark": {"type": "line", "color": "black", "strokeWidth": 2.8, "clip": true},
     "encoding": {"x": {"field": "x", "type": "quantitative", "axis": {"orient": "bottom", "values": [-6,-4,-3,-2,-1,1,2,3,4,6], "labels": false, "tickSize": 3.6, "tickWidth": 1, "title": null}}, "y": {"field": "z", "type": "quantitative", "axis": {"orient": "left", "values": [50,100,150,250,300,350,450,500,550,650,700,750,850,900,950], "labels": false, "tickSize": 3.6, "tickWidth": 1, "title": null}}, "detail": {"field": "k"}, "order": {"field": "z", "type": "quantitative"}}},
    {"data": {"values": [{}]}, "mark": {"type": "text", "fontSize": 23, "align": "left", "baseline": "alphabetic"}, "encoding": {"x": {"datum": -6.7, "axis": null}, "y": {"datum": 120, "axis": null}, "text": {"value": "d)"}}},
    {"data": {"values": [{}]}, "mark": {"type": "text", "fontSize": 18, "align": "left", "baseline": "alphabetic"}, "encoding": {"x": {"datum": -6.27, "axis": null}, "y": {"datum": 948, "axis": null}, "text": {"value": "ΔT [ °C]"}}},
    {"data": {"values": [{}]}, "mark": {"type": "rect", "filled": false, "color": "black", "strokeWidth": 1.4}, "encoding": {"x": {"datum": -7, "axis": null}, "x2": {"datum": 7}, "y": {"datum": 20, "axis": null}, "y2": {"datum": 1000}}}
   ]}
 ], "spacing": 64, "bounds": "flush", "resolve": {"scale": {"color": "independent"}}},
 {"hconcat": [
  {"width": 324, "height": 224,
   "resolve": {"axis": {"x": "independent", "y": "independent"}},
   "layer": [
    {"data": {"name": "heat"}, "transform": [{"filter": "datum.p==='b'"}], "mark": "rect",
     "encoding": {
      "x": {"field": "x0", "type": "quantitative", "scale": {"domain": [-1, 1]}, "axis": {"orient": "bottom", "values": [-1, -0.5, 0, 0.5, 1], "format": ".1f", "title": null}},
      "x2": {"field": "x1"},
      "y": {"field": "z0", "type": "quantitative", "scale": {"domain": [20, 1000], "reverse": true}, "axis": {"orient": "left", "values": [200, 400, 600, 800], "format": "d", "title": "z [m]", "titlePadding": 16}},
      "y2": {"field": "z1"},
      "color": {"field": "q", "type": "quantitative", "scale": {"domain": [0.01,0.1325,0.255,0.3775,0.5,0.6225,0.745,0.8675,0.99], "range": ["#f7fbff","#deebf7","#c6dbef","#9ecae1","#6baed6","#4292c6","#2171b5","#08519c","#08306b"], "interpolate": "rgb"}, "legend": null}
     }},
    {"data": {"name": "lines"}, "transform": [{"filter": "datum.p==='b'"}], "mark": {"type": "line", "color": "black", "strokeWidth": 2.8, "clip": true},
     "encoding": {"x": {"field": "x", "type": "quantitative", "axis": {"orient": "bottom", "values": [-0.9,-0.8,-0.7,-0.6,-0.4,-0.3,-0.2,-0.1,0.1,0.2,0.3,0.4,0.6,0.7,0.8,0.9], "labels": false, "tickSize": 3.6, "tickWidth": 1, "title": null}}, "y": {"field": "z", "type": "quantitative", "axis": {"orient": "left", "values": [50,100,150,250,300,350,450,500,550,650,700,750,850,900,950], "labels": false, "tickSize": 3.6, "tickWidth": 1, "title": null}}, "detail": {"field": "k"}, "order": {"field": "z", "type": "quantitative"}}},
    {"data": {"values": [{}]}, "mark": {"type": "text", "fontSize": 23, "align": "left", "baseline": "alphabetic"}, "encoding": {"x": {"datum": -0.957, "axis": null}, "y": {"datum": 120, "axis": null}, "text": {"value": "b)"}}},
    {"data": {"values": [{}]}, "mark": {"type": "text", "fontSize": 18, "align": "left", "baseline": "alphabetic"}, "encoding": {"x": {"datum": -0.895, "axis": null}, "y": {"datum": 948, "axis": null}, "text": {"value": "ΔS [g kg⁻¹]"}}},
    {"data": {"values": [{}]}, "mark": {"type": "rect", "filled": false, "color": "black", "strokeWidth": 1.4}, "encoding": {"x": {"datum": -1, "axis": null}, "x2": {"datum": 1}, "y": {"datum": 20, "axis": null}, "y2": {"datum": 1000}}}
   ]},
  {"width": 324, "height": 224,
   "resolve": {"axis": {"x": "independent", "y": "independent"}},
   "layer": [
    {"data": {"name": "heat"}, "transform": [{"filter": "datum.p==='e'"}], "mark": "rect",
     "encoding": {
      "x": {"field": "x0", "type": "quantitative", "scale": {"domain": [-1, 1]}, "axis": {"orient": "bottom", "values": [-1, -0.5, 0, 0.5, 1], "format": ".1f", "title": null}},
      "x2": {"field": "x1"},
      "y": {"field": "z0", "type": "quantitative", "scale": {"domain": [20, 1000], "reverse": true}, "axis": {"orient": "left", "values": [200, 400, 600, 800], "format": "d", "title": null}},
      "y2": {"field": "z1"},
      "color": {"field": "q", "type": "quantitative", "scale": {"domain": [0.01,0.1325,0.255,0.3775,0.5,0.6225,0.745,0.8675,0.99], "range": ["#fff5f0","#fee0d2","#fcbba1","#fc9272","#fb6a4a","#ef3b2c","#cb181d","#a50f15","#67000d"], "interpolate": "rgb"}, "legend": null}
     }},
    {"data": {"name": "lines"}, "transform": [{"filter": "datum.p==='e'"}], "mark": {"type": "line", "color": "black", "strokeWidth": 2.8, "clip": true},
     "encoding": {"x": {"field": "x", "type": "quantitative", "axis": {"orient": "bottom", "values": [-0.9,-0.8,-0.7,-0.6,-0.4,-0.3,-0.2,-0.1,0.1,0.2,0.3,0.4,0.6,0.7,0.8,0.9], "labels": false, "tickSize": 3.6, "tickWidth": 1, "title": null}}, "y": {"field": "z", "type": "quantitative", "axis": {"orient": "left", "values": [50,100,150,250,300,350,450,500,550,650,700,750,850,900,950], "labels": false, "tickSize": 3.6, "tickWidth": 1, "title": null}}, "detail": {"field": "k"}, "order": {"field": "z", "type": "quantitative"}}},
    {"data": {"values": [{}]}, "mark": {"type": "text", "fontSize": 23, "align": "left", "baseline": "alphabetic"}, "encoding": {"x": {"datum": -0.957, "axis": null}, "y": {"datum": 120, "axis": null}, "text": {"value": "e)"}}},
    {"data": {"values": [{}]}, "mark": {"type": "text", "fontSize": 18, "align": "left", "baseline": "alphabetic"}, "encoding": {"x": {"datum": -0.895, "axis": null}, "y": {"datum": 948, "axis": null}, "text": {"value": "ΔS [g kg⁻¹]"}}},
    {"data": {"values": [{}]}, "mark": {"type": "rect", "filled": false, "color": "black", "strokeWidth": 1.4}, "encoding": {"x": {"datum": -1, "axis": null}, "x2": {"datum": 1}, "y": {"datum": 20, "axis": null}, "y2": {"datum": 1000}}}
   ]}
 ], "spacing": 64, "bounds": "flush", "resolve": {"scale": {"color": "independent"}}},
 {"hconcat": [
  {"width": 324, "height": 224,
   "resolve": {"axis": {"x": "independent", "y": "independent"}},
   "layer": [
    {"data": {"name": "heat"}, "transform": [{"filter": "datum.p==='c'"}], "mark": "rect",
     "encoding": {
      "x": {"field": "x0", "type": "quantitative", "scale": {"domain": [-0.7, 0.7]}, "axis": {"orient": "bottom", "values": [-0.5, 0, 0.5], "format": ".1f", "title": null}},
      "x2": {"field": "x1"},
      "y": {"field": "z0", "type": "quantitative", "scale": {"domain": [20, 1000], "reverse": true}, "axis": {"orient": "left", "values": [200, 400, 600, 800], "format": "d", "title": "z [m]", "titlePadding": 16}},
      "y2": {"field": "z1"},
      "color": {"field": "q", "type": "quantitative", "scale": {"domain": [0.01,0.1325,0.255,0.3775,0.5,0.6225,0.745,0.8675,0.99], "range": ["#f7fbff","#deebf7","#c6dbef","#9ecae1","#6baed6","#4292c6","#2171b5","#08519c","#08306b"], "interpolate": "rgb"}, "legend": null}
     }},
    {"data": {"name": "lines"}, "transform": [{"filter": "datum.p==='c'"}], "mark": {"type": "line", "color": "black", "strokeWidth": 2.8, "clip": true},
     "encoding": {"x": {"field": "x", "type": "quantitative", "axis": {"orient": "bottom", "values": [-0.6,-0.4,-0.3,-0.2,-0.1,0.1,0.2,0.3,0.4,0.6], "labels": false, "tickSize": 3.6, "tickWidth": 1, "title": null}}, "y": {"field": "z", "type": "quantitative", "axis": {"orient": "left", "values": [50,100,150,250,300,350,450,500,550,650,700,750,850,900,950], "labels": false, "tickSize": 3.6, "tickWidth": 1, "title": null}}, "detail": {"field": "k"}, "order": {"field": "z", "type": "quantitative"}}},
    {"data": {"values": [{}]}, "mark": {"type": "text", "fontSize": 23, "align": "left", "baseline": "alphabetic"}, "encoding": {"x": {"datum": -0.67, "axis": null}, "y": {"datum": 120, "axis": null}, "text": {"value": "c)"}}},
    {"data": {"values": [{}]}, "mark": {"type": "text", "fontSize": 18, "align": "left", "baseline": "alphabetic"}, "encoding": {"x": {"datum": -0.627, "axis": null}, "y": {"datum": 948, "axis": null}, "text": {"value": "Δ ρ [kg m⁻³]"}}},
    {"data": {"values": [{}]}, "mark": {"type": "rect", "filled": false, "color": "black", "strokeWidth": 1.4}, "encoding": {"x": {"datum": -0.7, "axis": null}, "x2": {"datum": 0.7}, "y": {"datum": 20, "axis": null}, "y2": {"datum": 1000}}}
   ]},
  {"width": 324, "height": 224,
   "resolve": {"axis": {"x": "independent", "y": "independent"}},
   "layer": [
    {"data": {"name": "heat"}, "transform": [{"filter": "datum.p==='f'"}], "mark": "rect",
     "encoding": {
      "x": {"field": "x0", "type": "quantitative", "scale": {"domain": [-0.7, 0.7]}, "axis": {"orient": "bottom", "values": [-0.5, 0, 0.5], "format": ".1f", "title": null}},
      "x2": {"field": "x1"},
      "y": {"field": "z0", "type": "quantitative", "scale": {"domain": [20, 1000], "reverse": true}, "axis": {"orient": "left", "values": [200, 400, 600, 800], "format": "d", "title": null}},
      "y2": {"field": "z1"},
      "color": {"field": "q", "type": "quantitative", "scale": {"domain": [0.01,0.1325,0.255,0.3775,0.5,0.6225,0.745,0.8675,0.99], "range": ["#fff5f0","#fee0d2","#fcbba1","#fc9272","#fb6a4a","#ef3b2c","#cb181d","#a50f15","#67000d"], "interpolate": "rgb"}, "legend": null}
     }},
    {"data": {"name": "lines"}, "transform": [{"filter": "datum.p==='f'"}], "mark": {"type": "line", "color": "black", "strokeWidth": 2.8, "clip": true},
     "encoding": {"x": {"field": "x", "type": "quantitative", "axis": {"orient": "bottom", "values": [-0.6,-0.4,-0.3,-0.2,-0.1,0.1,0.2,0.3,0.4,0.6], "labels": false, "tickSize": 3.6, "tickWidth": 1, "title": null}}, "y": {"field": "z", "type": "quantitative", "axis": {"orient": "left", "values": [50,100,150,250,300,350,450,500,550,650,700,750,850,900,950], "labels": false, "tickSize": 3.6, "tickWidth": 1, "title": null}}, "detail": {"field": "k"}, "order": {"field": "z", "type": "quantitative"}}},
    {"data": {"values": [{}]}, "mark": {"type": "text", "fontSize": 23, "align": "left", "baseline": "alphabetic"}, "encoding": {"x": {"datum": -0.67, "axis": null}, "y": {"datum": 120, "axis": null}, "text": {"value": "f)"}}},
    {"data": {"values": [{}]}, "mark": {"type": "text", "fontSize": 18, "align": "left", "baseline": "alphabetic"}, "encoding": {"x": {"datum": -0.627, "axis": null}, "y": {"datum": 948, "axis": null}, "text": {"value": "Δ ρ [kg m⁻³]"}}},
    {"data": {"values": [{}]}, "mark": {"type": "rect", "filled": false, "color": "black", "strokeWidth": 1.4}, "encoding": {"x": {"datum": -0.7, "axis": null}, "x2": {"datum": 0.7}, "y": {"datum": 20, "axis": null}, "y2": {"datum": 1000}}}
   ]}
 ], "spacing": 64, "bounds": "flush", "resolve": {"scale": {"color": "independent"}}}
], "spacing": 16, "resolve": {"scale": {"color": "independent"}}},
{"vconcat": [
 {"width": 1, "height": 72, "data": {"values": [{}]}, "mark": {"type": "point", "opacity": 0}, "view": {"fill": "white", "stroke": null}},
 {"width": 1, "height": 201, "data": {"values": [{"q": 0.01}, {"q": 0.99}]}, "mark": {"type": "point", "opacity": 0},
  "title": {"text": "quantile", "orient": "right", "anchor": "middle", "angle": 270, "baseline": "top", "fontSize": 18, "offset": -15},
  "encoding": {"color": {"field": "q", "type": "quantitative", "scale": {"domain": [0.01,0.1325,0.255,0.3775,0.5,0.6225,0.745,0.8675,0.99], "range": ["#f7fbff","#deebf7","#c6dbef","#9ecae1","#6baed6","#4292c6","#2171b5","#08519c","#08306b"], "interpolate": "rgb"}, "legend": {"title": null, "values": [0.2, 0.4, 0.6, 0.8], "format": ".1f", "labelOffset": 14, "offset": 2}}}},
 {"width": 1, "height": 202, "data": {"values": [{"q": 0.01}, {"q": 0.99}]}, "mark": {"type": "point", "opacity": 0},
  "title": {"text": "quantile", "orient": "right", "anchor": "middle", "angle": 270, "baseline": "top", "fontSize": 18, "offset": -15},
  "encoding": {"color": {"field": "q", "type": "quantitative", "scale": {"domain": [0.01,0.1325,0.255,0.3775,0.5,0.6225,0.745,0.8675,0.99], "range": ["#fff5f0","#fee0d2","#fcbba1","#fc9272","#fb6a4a","#ef3b2c","#cb181d","#a50f15","#67000d"], "interpolate": "rgb"}, "legend": {"title": null, "values": [0.2, 0.4, 0.6, 0.8], "format": ".1f", "labelOffset": 14, "offset": 2}}}}
], "spacing": 67, "bounds": "flush", "resolve": {"scale": {"color": "independent"}}}
],
"config": {
 "font": "DejaVu Serif",
 "view": {"stroke": null},
 "axis": {"labelFont": "DejaVu Serif", "labelFontSize": 18, "labelColor": "black", "tickColor": "black", "tickWidth": 1.3, "tickSize": 6.4, "domain": false, "grid": false, "labelFlush": false, "labelOverlap": false, "labelPadding": 5, "titleFont": "DejaVu Serif", "titleFontSize": 18, "titleFontWeight": "normal", "titleColor": "black"},
 "title": {"font": "DejaVu Serif", "fontWeight": "normal", "color": "black"},
 "text": {"font": "DejaVu Serif", "color": "black"},
 "legend": {"orient": "right", "padding": 0, "direction": "vertical", "gradientLength": 201, "gradientThickness": 17, "gradientStrokeColor": "black", "gradientStrokeWidth": 1.2, "labelFont": "DejaVu Serif", "labelFontSize": 18, "labelColor": "black"}
}
}
